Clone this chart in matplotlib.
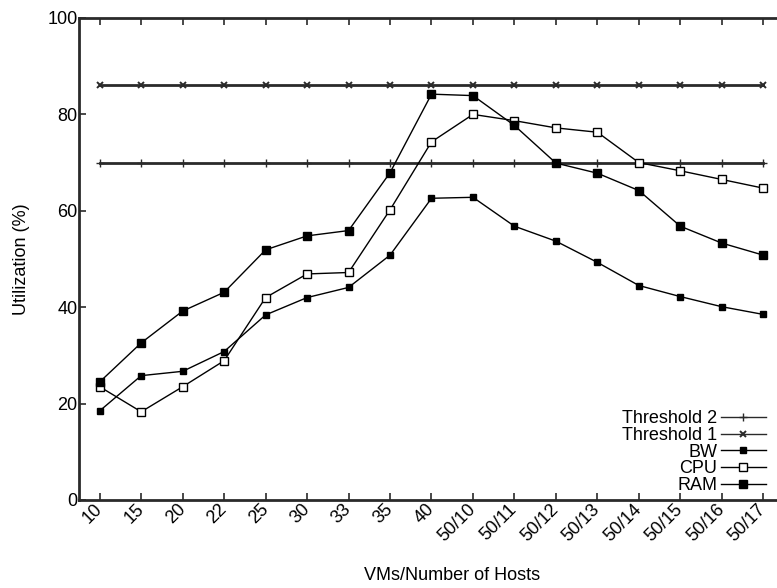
import numpy as np
import matplotlib.pyplot as plt

plt.rcParams['font.family'] = ['Liberation Sans', 'DejaVu Sans']

# x categories (VMs / number of hosts)
labels = ['10', '15', '20', '22', '25', '30', '33', '35', '40',
          '50/10', '50/11', '50/12', '50/13', '50/14', '50/15', '50/16', '50/17']

# utilization in percent
ram = [24.5, 32.6, 39.2, 43.1, 51.9, 54.8, 55.9, 67.9, 84.2,
       83.9, 77.7, 69.9, 67.8, 64.2, 56.8, 53.3, 50.8]
cpu = [23.5, 18.3, 23.5, 28.9, 42.0, 46.9, 47.2, 60.2, 74.3,
       80.0, 78.7, 77.2, 76.3, 70.0, 68.3, 66.5, 64.7]
bw = [18.5, 25.8, 26.7, 30.8, 38.4, 42.0, 44.1, 50.8, 62.6,
      62.8, 56.8, 53.7, 49.3, 44.5, 42.2, 40.1, 38.5]
threshold1 = 86
threshold2 = 70

x = np.arange(len(labels))

fig = plt.figure(figsize=(7.77, 5.88), dpi=100)
W, H = 777, 588
ax = fig.add_axes([79 / W, (H - 500) / H, 705 / W, 482 / H])

frame = '#2a2a2a'
ax.plot(x, [threshold2] * len(x), color=frame, lw=2, marker='+', ms=6,
        mew=1, label='Threshold 2')
ax.plot(x, [threshold1] * len(x), color=frame, lw=2, marker='x', ms=5,
        mew=1.4, label='Threshold 1')
ax.plot(x, bw, color='black', lw=1, marker='s', ms=4, label='BW')
ax.plot(x, cpu, color='black', lw=1, marker='s', ms=6, mfc='white',
        mew=1, label='CPU')
ax.plot(x, ram, color='black', lw=1, marker='s', ms=6, label='RAM')

ax.set_xlim(-0.5, 16.5)
ax.set_ylim(0, 100)
ax.set_xticks(x)
ax.set_xticklabels(labels, rotation=45, ha='right', va='center',
                   rotation_mode='anchor', fontsize=13)
ax.set_yticks([0, 20, 40, 60, 80, 100])
ax.tick_params(axis='y', labelsize=13, pad=1)
ax.tick_params(direction='in', top=True, right=True, length=5, width=1.2,
               color=frame)
ax.tick_params(axis='x', pad=5)

for s in ax.spines.values():
    s.set_linewidth(2)
    s.set_color(frame)

ax.set_xlabel('VMs/Number of Hosts', fontsize=13)
ax.xaxis.set_label_coords((452 - 79) / 705, -0.138)
ax.set_ylabel('Utilization (%)', fontsize=13)
ax.yaxis.set_label_coords(-0.07, 0.5)

# legend: labels right-aligned, line samples on the right
leg = ax.legend(loc='lower right', bbox_to_anchor=(0.987, -0.006),
                frameon=False, markerfirst=False, fontsize=13, borderpad=0,
                handlelength=2.5, handletextpad=0.2, labelspacing=-0.02)
for line in leg.get_lines():
    line.set_linewidth(1)

fig.savefig('out.png', dpi=100, facecolor='white')
